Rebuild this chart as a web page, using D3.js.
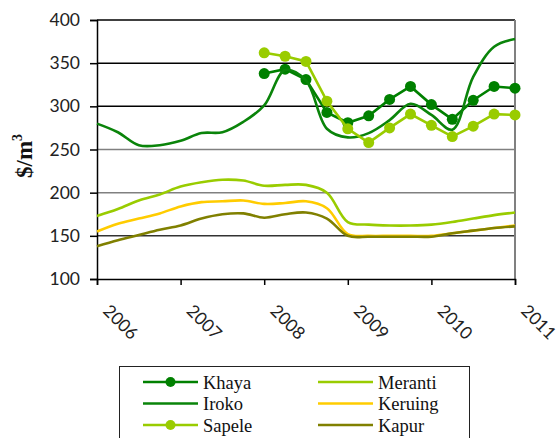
<!DOCTYPE html>
<html>
<head>
<meta charset="utf-8">
<script src="https://cdn.jsdelivr.net/npm/d3@7"></script>
</head>
<body style="margin:0">
<svg id="chart" width="560" height="438"></svg>
<script>
// quarterly time points
const quarters = [2006, 2006.25, 2006.5, 2006.75, 2007, 2007.25, 2007.5, 2007.75,
  2008, 2008.25, 2008.5, 2008.75, 2009, 2009.25, 2009.5, 2009.75,
  2010, 2010.25, 2010.5, 2010.75, 2011];
const quartersLate = [2008, 2008.25, 2008.5, 2008.75, 2009, 2009.25, 2009.5, 2009.75,
  2010, 2010.25, 2010.5, 2010.75, 2011];

const khaya   = [338, 343, 331, 293, 281, 289, 308, 323, 302, 285, 307, 323, 321];
const sapele  = [362, 358, 352, 306, 274, 258, 275, 291, 278, 265, 277, 291, 290];
const iroko   = [280, 270, 255, 255, 260, 269, 270, 282, 301, 342, 330, 274, 264, 269, 284, 303, 290, 273, 334, 369, 378];
const meranti = [173, 181, 191, 198, 207, 212, 215, 214, 208, 209, 209, 200, 166, 163, 162, 162, 163, 166, 170, 174, 177];
const keruing = [155, 164, 170, 176, 184, 189, 190, 191, 187, 188, 190, 182, 152, 150, 150, 150, 150, 153, 156, 159, 162];
const kapur   = [138, 145, 151, 157, 162, 170, 175, 176, 171, 175, 177, 170, 150, 149, 149, 149, 149, 153, 156, 159, 161];

const yTicks = [100, 150, 200, 250, 300, 350, 400];
const xTicks = [2006, 2007, 2008, 2009, 2010, 2011];

const series = [
  {name: "Khaya",   x: quartersLate, v: khaya,   color: "#008000", marker: true},
  {name: "Iroko",   x: quarters,     v: iroko,   color: "#0a840a", marker: false},
  {name: "Sapele",  x: quartersLate, v: sapele,  color: "#99cc00", marker: true},
  {name: "Meranti", x: quarters,     v: meranti, color: "#99cc00", marker: false},
  {name: "Keruing", x: quarters,     v: keruing, color: "#ffcc00", marker: false},
  {name: "Kapur",   x: quarters,     v: kapur,   color: "#808000", marker: false}
];

const SERIF = '"Liberation Serif"';
const SANS = '"Lato"';

const svg = d3.select("#chart");
const pl = 97, pr = 515, pt = 20, pb = 279;
const x = d3.scaleLinear([2006, 2011], [pl, pr]);
const y = d3.scaleLinear([100, 400], [pb, pt]);

// grid lines
const gridColor = {150: "#333", 200: "#808080", 250: "#808080", 300: "#000", 350: "#000", 400: "#000"};
svg.append("g").selectAll("line")
  .data(yTicks.filter(d => d > 100))
  .join("line")
  .attr("x1", pl).attr("x2", pr)
  .attr("y1", d => y(d)).attr("y2", d => y(d))
  .attr("stroke", d => gridColor[d])
  .attr("stroke-width", 1.5);

// right border
svg.append("line")
  .attr("x1", pr).attr("x2", pr)
  .attr("y1", pt).attr("y2", pb)
  .attr("stroke", "#808080").attr("stroke-width", 2);

// axes
const yAxis = svg.append("g")
  .attr("transform", `translate(${pl},0)`)
  .call(d3.axisLeft(y).tickValues(yTicks).tickSize(7).tickPadding(10))
  .attr("font-family", null).attr("font-size", null);
const xAxis = svg.append("g")
  .attr("transform", `translate(0,${pb})`)
  .call(d3.axisBottom(x).tickValues(xTicks).tickSize(6).tickFormat(""));
[yAxis, xAxis].forEach(g => {
  g.select(".domain").attr("stroke", "#000").attr("stroke-width", 1.5);
  g.selectAll(".tick line").attr("stroke", "#000").attr("stroke-width", 1.5);
});
yAxis.selectAll(".tick text")
  .style("font-family", SANS)
  .style("font-size", "17.5px")
  .attr("fill", "#222");

// rotated year labels
svg.append("g").selectAll("text")
  .data(xTicks)
  .join("text")
  .attr("transform", d => `translate(${x(d) + 5},${pb + 33}) rotate(45)`)
  .style("font-family", SANS)
  .style("font-size", "17.5px")
  .attr("fill", "#222")
  .text(d => d);

// y title
const yt = svg.append("text")
  .attr("transform", "translate(32,178) rotate(-90)")
  .style("font-family", SERIF)
  .style("font-weight", "bold")
  .style("font-size", "23px")
  .attr("fill", "#111");
yt.append("tspan").text("$/m");
yt.append("tspan").style("font-size", "14px").attr("dy", -10).text("3");

// lines
const smooth = d3.line().x(d => x(d[0])).y(d => y(d[1])).curve(d3.curveCatmullRom.alpha(0.5));
const straight = d3.line().x(d => x(d[0])).y(d => y(d[1]));

series.forEach(s => {
  const pts = s.x.map((t, i) => [t, s.v[i]]);
  const g = svg.append("g");
  g.append("path")
    .datum(pts)
    .attr("fill", "none")
    .attr("stroke", s.color)
    .attr("stroke-width", 2.6)
    .attr("d", s.marker ? straight : smooth);
  if (s.marker) {
    g.selectAll("circle")
      .data(pts)
      .join("circle")
      .attr("cx", d => x(d[0]))
      .attr("cy", d => y(d[1]))
      .attr("r", 5.5)
      .attr("fill", s.color);
  }
});

// legend
const lg = svg.append("g");
lg.append("rect")
  .attr("x", 119.5).attr("y", 366.5)
  .attr("width", 350).attr("height", 90)
  .attr("fill", "#fff").attr("stroke", "#222").attr("stroke-width", 1);
const item = lg.selectAll("g")
  .data(series)
  .join("g")
  .attr("transform", (d, i) => `translate(${i < 3 ? 143 : 318},${382 + (i % 3) * 21.5})`);
item.append("line")
  .attr("x1", 0).attr("x2", 55)
  .attr("stroke", d => d.color).attr("stroke-width", 2.6);
item.filter(d => d.marker).append("circle")
  .attr("cx", 27.5).attr("r", 5).attr("fill", d => d.color);
item.append("text")
  .attr("x", 60).attr("y", 6.5)
  .style("font-family", SERIF)
  .style("font-size", "18.5px")
  .attr("fill", "#111")
  .text(d => d.name);
</script>
</body>
</html>
